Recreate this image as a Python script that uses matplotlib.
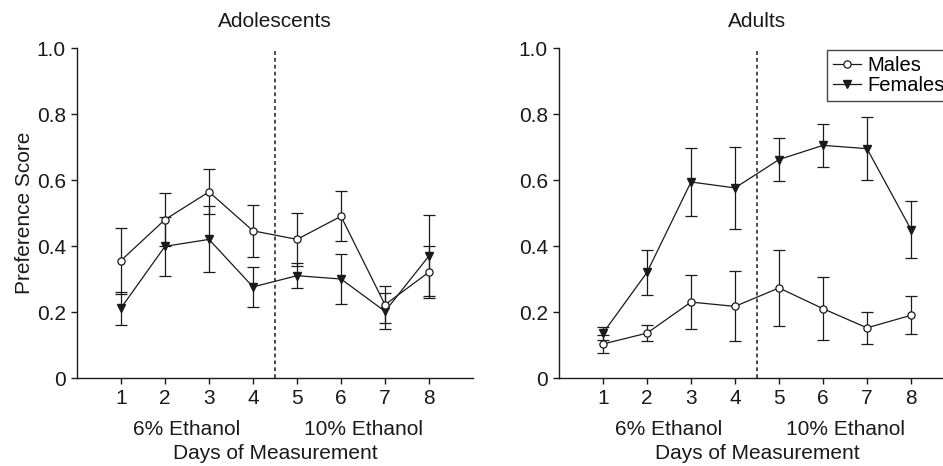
import numpy as np
import matplotlib.pyplot as plt
from matplotlib.lines import Line2D

plt.rcParams['font.family'] = ['Liberation Sans', 'DejaVu Sans']

days = [1, 2, 3, 4, 5, 6, 7, 8]

# Adolescents
ado_males = [0.356, 0.48, 0.564, 0.446, 0.42, 0.49, 0.222, 0.321]
ado_males_err = [0.10, 0.08, 0.068, 0.078, 0.08, 0.076, 0.056, 0.078]
ado_females = [0.212, 0.399, 0.42, 0.276, 0.31, 0.30, 0.202, 0.37]
ado_females_err = [0.05, 0.09, 0.10, 0.06, 0.037, 0.077, 0.055, 0.123]

# Adults
adu_males = [0.103, 0.136, 0.23, 0.217, 0.273, 0.21, 0.152, 0.19]
adu_males_err = [0.027, 0.025, 0.083, 0.106, 0.114, 0.096, 0.048, 0.058]
adu_females = [0.136, 0.32, 0.594, 0.576, 0.662, 0.705, 0.695, 0.45]
adu_females_err = [0.02, 0.068, 0.103, 0.123, 0.064, 0.065, 0.095, 0.085]

titles = ['Adolescents', 'Adults']
yticks = [0, 0.2, 0.4, 0.6, 0.8, 1.0]
ytick_labels = ['0', '0.2', '0.4', '0.6', '0.8', '1.0']
phase_labels = ['6% Ethanol', '10% Ethanol']
phase_pos = [2.5, 6.5]

ink = '#1a1a1a'
fs = 15

fig = plt.figure(figsize=(9.43, 4.66), dpi=100)
ax1 = fig.add_axes([77 / 943, 1 - 378 / 466, 396 / 943, 330 / 466])
ax2 = fig.add_axes([559 / 943, 1 - 378 / 466, 396 / 943, 330 / 466])

data = [(ado_males, ado_males_err, ado_females, ado_females_err),
        (adu_males, adu_males_err, adu_females, adu_females_err)]

for ax, title, (m, me, f, fe) in zip([ax1, ax2], titles, data):
    ax.axvline(4.5, ymin=0, ymax=1, color=ink, lw=1.1, ls=(0, (2.5, 2)))
    ax.errorbar(days, f, yerr=fe, color=ink, lw=0.9, marker='v', ms=6,
                mfc=ink, mec=ink, capsize=4, capthick=0.9, elinewidth=0.9,
                zorder=3)
    ax.errorbar(days, m, yerr=me, color=ink, lw=0.9, marker='o', ms=5.2,
                mfc='white', mec=ink, mew=0.9, capsize=4, capthick=0.9,
                elinewidth=0.9, zorder=4)
    ax.set_xlim(0, 9)
    ax.set_ylim(0, 1.0)
    ax.set_xticks(days)
    ax.set_yticks(yticks)
    ax.set_yticklabels(ytick_labels)
    ax.spines['top'].set_visible(False)
    ax.spines['right'].set_visible(False)
    for s in ['left', 'bottom']:
        ax.spines[s].set_color(ink)
        ax.spines[s].set_linewidth(1.0)
    ax.tick_params(direction='out', length=4, width=1.0, colors=ink,
                   labelsize=fs, pad=4)
    ax.set_title(title, fontsize=fs, color=ink, pad=15)
    trans = ax.get_xaxis_transform()
    for lab, xp in zip(phase_labels, phase_pos):
        ax.text(xp, -0.155, lab, transform=trans, ha='center', va='center',
                fontsize=fs, color=ink)
    ax.text(4.5, -0.23, 'Days of Measurement', transform=trans,
            ha='center', va='center', fontsize=fs, color=ink)

ax1.set_ylabel('Preference Score', fontsize=fs, color=ink, labelpad=2)

handles = [
    Line2D([], [], color=ink, lw=0.9, marker='o', ms=5.2, mfc='white',
           mec=ink, mew=0.9),
    Line2D([], [], color=ink, lw=0.9, marker='v', ms=6, mfc=ink, mec=ink),
]
leg = fig.legend(handles, ['Males', 'Females'], loc='upper left',
                 bbox_to_anchor=(827 / 943, 1 - 50 / 466), fontsize=14.5,
                 handlelength=1.4, handletextpad=0.3, borderpad=0.3,
                 labelspacing=0.05, frameon=True, fancybox=False,
                 borderaxespad=0)
leg.get_frame().set_edgecolor(ink)
leg.get_frame().set_linewidth(1.0)

fig.savefig('out.png', dpi=100)
